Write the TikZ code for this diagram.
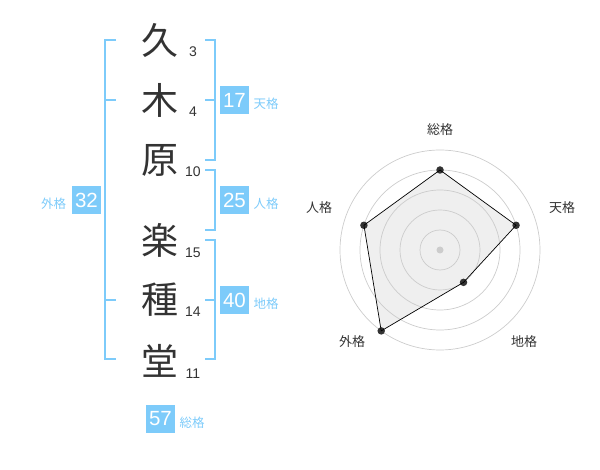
\documentclass[tikz,border=0pt]{standalone}
\usepackage{fontspec}
\setmainfont{Liberation Sans}
\newfontfamily\jp{Noto Sans CJK JP}
\definecolor{skyb}{RGB}{125,203,250}
\definecolor{ink}{RGB}{51,51,51}
\definecolor{ringc}{RGB}{204,204,204}
\definecolor{polyfill}{RGB}{239,239,239}
\begin{document}
\begin{tikzpicture}[x=1pt,y=-1pt,
 kanji/.style={font=\jp\fontsize{37}{37}\selectfont, text=ink, inner sep=0},
 strokes/.style={font=\fontsize{14}{14}\selectfont, text=ink, inner sep=0, anchor=base},
 brk/.style={draw=skyb, line width=2pt},
 valbox/.style={fill=skyb, text=white, minimum width=29pt, minimum height=28pt, inner sep=0, font=\fontsize{20.5}{20.5}\selectfont},
 lab/.style={text=skyb, font=\jp\fontsize{12.5}{12.5}\selectfont, inner sep=0},
 ring/.style={draw=ringc, line width=0.7pt},
 rlab/.style={text=ink, font=\jp\fontsize{13}{13}\selectfont, inner sep=0},
 dotn/.style={circle, fill=ink, inner sep=0, minimum size=7.5pt},
 edge/.style={draw=black, line width=0.7pt}
]
\useasboundingbox (0,0) rectangle (600,470);
% kanji
\node[kanji] (k1) at (160,40) {久};
\node[kanji] (k2) at (160,100) {木};
\node[kanji] (k3) at (160,160) {原};
\node[kanji] (k4) at (160,240) {楽};
\node[kanji] (k5) at (160,300) {種};
\node[kanji] (k6) at (160,361) {堂};
% stroke counts
\node[strokes] (s1) at (193,57) {3};
\node[strokes] (s2) at (193,117) {4};
\node[strokes] (s3) at (193,177) {10};
\node[strokes] (s4) at (193,258) {15};
\node[strokes] (s5) at (193,317) {14};
\node[strokes] (s6) at (193,378) {11};
% brackets
\draw[brk] (116,40) -- (105,40) -- (105,359) -- (116,359);
\draw[brk] (105,100) -- (116,100);
\draw[brk] (105,300) -- (116,300);
\draw[brk] (205,40) -- (214.5,40) -- (214.5,160) -- (205,160);
\draw[brk] (205,100) -- (214.5,100);
\draw[brk] (205,170) -- (214.5,170) -- (214.5,230) -- (205,230);
\draw[brk] (205,240) -- (214.5,240) -- (214.5,359) -- (205,359);
\draw[brk] (205,300) -- (214.5,300);
% value boxes
\node[valbox] (b17) at (234.5,100) {17};
\node[lab] (l17) at (266,104) {天格};
\node[valbox] (b25) at (234.5,200) {25};
\node[lab] (l25) at (266,204) {人格};
\node[valbox] (b40) at (234.5,300) {40};
\node[lab] (l40) at (266,304) {地格};
\node[valbox] (b32) at (86.5,200) {32};
\node[lab] (l32) at (53.5,204) {外格};
\node[valbox] (b57) at (160.5,419) {57};
\node[lab] (l57) at (192,423) {総格};
% radar
\coordinate (c) at (440,250);
\path[fill=polyfill] ([shift={(-90:80)}]c) -- ([shift={(-18:80)}]c) -- ([shift={(54:40)}]c) -- ([shift={(126:100)}]c) -- ([shift={(198:80)}]c) -- cycle;
\foreach \r in {20,40,60,80,100} \draw[ring] (c) circle[radius=\r pt];
\node[circle, fill=ringc, inner sep=0, minimum size=7pt] (c0) at (c) {};
\node[dotn] (d1) at ([shift={(-90:80)}]c) {};
\node[dotn] (d2) at ([shift={(-18:80)}]c) {};
\node[dotn] (d3) at ([shift={(54:40)}]c) {};
\node[dotn] (d4) at ([shift={(126:100)}]c) {};
\node[dotn] (d5) at ([shift={(198:80)}]c) {};
\draw[edge] (d1.center) -- (d2.center) -- (d3.center) -- (d4.center) -- (d5.center) -- cycle;
\node[rlab] (r1) at (440,130) {総格};
\node[rlab] (r2) at (562,208) {天格};
\node[rlab] (r3) at (524,342) {地格};
\node[rlab] (r4) at (352,342) {外格};
\node[rlab] (r5) at (319,208) {人格};
\end{tikzpicture}
\end{document}
